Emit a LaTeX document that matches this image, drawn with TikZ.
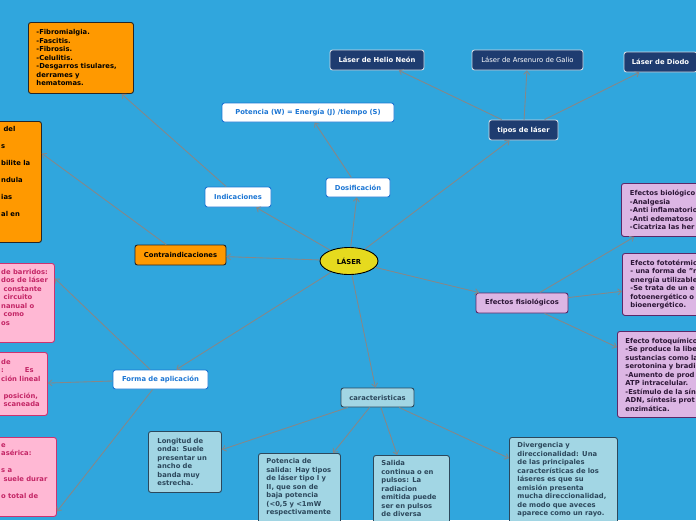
\documentclass[tikz,border=0pt]{standalone}
\usepackage{fontspec}
\setmainfont{DejaVu Sans}
\usetikzlibrary{arrows.meta,shapes.geometric}

\definecolor{bgblue}{RGB}{48,166,221}
\definecolor{laseryellow}{RGB}{230,218,30}
\definecolor{orangebox}{RGB}{255,153,0}
\definecolor{pinkfill}{RGB}{255,184,212}
\definecolor{pinkdraw}{RGB}{205,50,112}
\definecolor{pinktext}{RGB}{196,38,102}
\definecolor{purplefill}{RGB}{220,182,228}
\definecolor{purpledraw}{RGB}{92,40,104}
\definecolor{purpletext}{RGB}{44,22,54}
\definecolor{navyfill}{RGB}{30,60,112}
\definecolor{skyfill}{RGB}{162,214,228}
\definecolor{skydraw}{RGB}{44,72,92}
\definecolor{skytext}{RGB}{44,72,92}
\definecolor{boxblue}{RGB}{28,118,212}
\definecolor{linkgrey}{RGB}{135,135,135}

\begin{document}
\begin{tikzpicture}[x=1pt,y=1pt,yscale=-1,
  base/.style={rounded corners=2.5pt,line width=0.9pt,inner sep=0pt,
    font=\fontsize{6.8}{8.5}\selectfont\bfseries},
  whitebox/.style={base,fill=white,draw=boxblue,text=boxblue},
  navybox/.style={base,fill=navyfill,draw=white!80!navyfill,text=white},
  orangebx/.style={base,fill=orangebox,draw=black!85,text=black},
  pinkbox/.style={base,fill=pinkfill,draw=pinkdraw,text=pinktext},
  purplebox/.style={base,fill=purplefill,draw=purpledraw,text=purpletext},
  skybox/.style={base,fill=skyfill,draw=skydraw,text=skytext},
  textbox/.style={anchor=north west,align=left,inner xsep=8pt,inner ysep=5pt},
  cuttext/.style={anchor=north west,align=left,inner sep=0pt,
    font=\fontsize{6.8}{8.5}\selectfont\bfseries},
  link/.style={draw=linkgrey,line width=0.85pt,-{Straight Barb[length=3.5pt,width=6pt]}}]

\fill[bgblue] (0,0) rectangle (696,520);
\useasboundingbox (0,0) rectangle (696,520);
\clip (0,0) rectangle (696,520);

% centre
\node (laser) [ellipse,draw=black,line width=0.9pt,fill=laseryellow,minimum width=58,minimum height=27,inner sep=0pt,font=\fontsize{6.8}{8.5}\selectfont\bfseries] at (349,261) {LÁSER};

% upper branch
\node (dosif) [whitebox,minimum width=64,minimum height=19] at (358,187.5) {Dosificación};
\node (potencia) [whitebox,minimum width=172,minimum height=19] at (308,112.5) {Potencia (W) = Energía (J) /tiempo (S)};
\node (indic) [whitebox,minimum width=66,minimum height=20] at (238,197) {Indicaciones};
\node (indlist) [orangebx,textbox,text width=89,minimum height=71] at (28,22) {-Fibromialgia.\\-Fascitis.\\-Fibrosis.\\-Celulitis.\\-Desgarros tisulares,\\derrames y\\hematomas.};

% tipos
\node (tipos) [navybox,minimum width=69,minimum height=20] at (523.5,130) {tipos de láser};
\node (helio) [navybox,minimum width=94,minimum height=20] at (377,60) {Láser de Helio Neón};
\node (arsen) [navybox,minimum width=111,minimum height=20,font=\fontsize{6.8}{8.5}\selectfont] at (527.5,60) {Láser de Arsenuro de Galio};
\node (diodo) [navybox,minimum width=73,minimum height=20] at (660.5,62) {Láser de Diodo};

% contraindicaciones
\node (contra) [orangebx,minimum width=91,minimum height=20] at (180.5,255) {Contraindicaciones};
\node (contlist) [orangebx,anchor=north west,minimum width=51,minimum height=121] at (-10,121) {};
\node (contxt) [cuttext,font=\fontsize{6.8}{17}\selectfont\bfseries] at (1,126) {\ del\\s\\bilite la\\ndula\\ias\\al en};

% efectos
\node (efis) [purplebox,minimum width=92,minimum height=20] at (522,303) {Efectos fisiológicos};
\node (efbio) [purplebox,textbox,inner xsep=8.5pt,text width=100,minimum height=53] at (621,183) {Efectos biológico\\-Analgesia\\-Anti inflamatorio\\-Anti edematoso\\-Cicatriza las her};
\node (efterm) [purplebox,textbox,text width=100,minimum height=62] at (622,253) {Efecto fototérmico\\- una forma de "r\\energía utilizable\\-Se trata de un e\\fotoenergético o\\bioenergético.};
\node (efquim) [purplebox,textbox,text width=100,minimum height=86] at (617,331) {Efecto fotoquímico\\-Se produce la libe\\sustancias como la\\serotonina y bradi\\-Aumento de prod\\ATP intracelular.\\-Estímulo de la sín\\ADN, síntesis prot\\enzimática.};

% forma de aplicacion
\node (forma) [whitebox,minimum width=95,minimum height=19] at (160.5,379.5) {Forma de aplicación};
\node (barr) [pinkbox,anchor=north west,minimum width=64,minimum height=79] at (-10,263) {};
\node (barrtxt) [cuttext,text=pinktext] at (1,269) {de barridos:\\dos de láser\\\ constante\\\ circuito\\nanual o\\\ como\\os};
\node (punt) [pinkbox,anchor=north west,minimum width=57,minimum height=63] at (-10,352) {};
\node (punttxt) [cuttext,text=pinktext] at (1,359) {de\\:\hspace{21pt}Es\\ción lineal\\~\\\ posición,\\\ scaneada};
\node (tiem) [pinkbox,anchor=north west,minimum width=66,minimum height=79] at (-10,437) {};
\node (tiemtxt) [cuttext,text=pinktext] at (1,443) {e\\asérica:\\~\\s a\\\ suele durar\\~\\o total de};

% caracteristicas
\node (carac) [skybox,minimum width=73,minimum height=19] at (377.5,397.5) {caracteristicas};
\node (longi) [skybox,textbox,inner xsep=9pt,text width=55,minimum height=61] at (148,431) {Longitud de\\onda: Suele\\presentar un\\ancho de\\banda muy\\estrecha.};
\node (potsal) [skybox,textbox,text width=66] at (258,453) {Potencia de\\salida: Hay tipos\\de láser tipo I y\\II, que son de\\baja potencia\\(<0,5 y <1mW\\respectivamente\\~\\~};
\node (salida) [skybox,textbox,text width=60] at (373,455) {Salida\\continua o en\\pulsos: La\\radiacion\\emitida puede\\ser en pulsos\\de diversa\\~\\~};
\node (diverg) [skybox,textbox,text width=92] at (509,437) {Divergencia y\\direccionalidad: Una\\de las principales\\características de los\\láseres es que su\\emisión presenta\\mucha direccionalidad,\\de modo que aveces\\aparece como un rayo.\\~};

% links
\draw[link] (laser) -- (dosif);
\draw[link] (dosif) -- (potencia);
\draw[link] (laser) -- (indic);
\draw[link] (indic) -- (indlist);
\draw[link] (laser) -- (contra);
\draw[link] (contra) -- ([yshift=-28.5pt]contlist.east);
\draw[link] (laser) -- (tipos);
\draw[link] (tipos) -- (helio);
\draw[link] (tipos) -- (arsen);
\draw[link] (tipos) -- (diodo);
\draw[link] (laser) -- (efis);
\draw[link] (efis) -- (efbio);
\draw[link] (efis) -- (efterm);
\draw[link] (efis) -- (efquim);
\draw[link] (laser) -- (forma);
\draw[link] (forma) -- ([yshift=-24.5pt]barr.east);
\draw[link] (forma) -- (punt);
\draw[link] (forma) -- ([yshift=34.5pt]tiem.east);
\draw[link] (laser) -- (carac);
\draw[link] (carac) -- (longi);
\draw[link] (carac) -- (potsal);
\draw[link] (carac) -- (salida);
\draw[link] (carac) -- (diverg);

\end{tikzpicture}
\end{document}
